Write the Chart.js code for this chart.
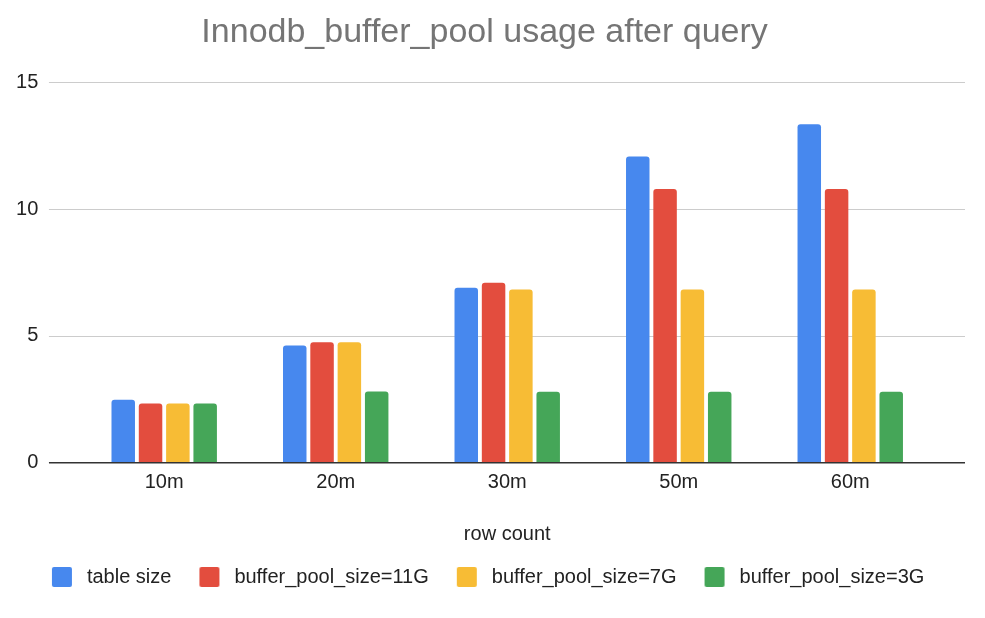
<!DOCTYPE html>
<html>
<head>
<meta charset="utf-8">
<script src="https://cdn.jsdelivr.net/npm/chart.js@4"></script>
<style>
  html, body { margin: 0; padding: 0; background: #ffffff; }
  #wrap { width: 985px; height: 618px; position: relative; }
</style>
</head>
<body>
<div id="wrap"><canvas id="c" width="985" height="618"></canvas></div>
<script>
const categories = ['10m', '20m', '30m', '50m', '60m'];
const seriesNames = ['table size', 'buffer_pool_size=11G', 'buffer_pool_size=7G', 'buffer_pool_size=3G'];
const tableSize = [2.49, 4.62, 6.90, 12.07, 13.35];
const bufferPool11G = [2.34, 4.75, 7.10, 10.79, 10.79];
const bufferPool7G = [2.34, 4.75, 6.83, 6.83, 6.83];
const bufferPool3G = [2.34, 2.81, 2.80, 2.80, 2.80];
const yTicks = [0, 5, 10, 15];

const colors = ['#4788ee', '#e34d3e', '#f7bc35', '#45a658'];
const FONT = '"Liberation Sans", Arial, sans-serif';

function legendSwatch(color) {
  const cv = document.createElement('canvas');
  cv.width = 32; cv.height = 20;
  const g = cv.getContext('2d');
  g.fillStyle = color;
  g.beginPath();
  if (g.roundRect) g.roundRect(7, 0, 20, 20, 2); else g.rect(7, 0, 20, 20);
  g.fill();
  return cv;
}
const swatches = colors.map(legendSwatch);

const gridPlugin = {
  id: 'gridExt',
  beforeDatasetsDraw(chart) {
    const {ctx, chartArea, scales} = chart;
    const x0 = chartArea.left - 29.5, x1 = chartArea.right + 29;
    ctx.save();
    ctx.strokeStyle = '#cccccc';
    ctx.lineWidth = 1;
    yTicks.forEach(v => {
      if (v === 0) return;
      const y = Math.round(scales.y.getPixelForValue(v)) + 0.5;
      ctx.beginPath(); ctx.moveTo(x0, y); ctx.lineTo(x1, y); ctx.stroke();
    });
    ctx.restore();
  },
  afterDatasetsDraw(chart) {
    const {ctx, chartArea, scales} = chart;
    const x0 = chartArea.left - 29.5, x1 = chartArea.right + 29;
    const y = scales.y.getPixelForValue(0);
    ctx.save();
    ctx.strokeStyle = '#333333';
    ctx.lineWidth = 1.5;
    ctx.beginPath(); ctx.moveTo(x0, y); ctx.lineTo(x1, y); ctx.stroke();
    ctx.restore();
  }
};

const values = [tableSize, bufferPool11G, bufferPool7G, bufferPool3G];

new Chart(document.getElementById('c'), {
  type: 'bar',
  data: {
    labels: categories,
    datasets: values.map((d, i) => ({
      label: seriesNames[i],
      data: d,
      backgroundColor: colors[i],
      borderWidth: 0,
      borderRadius: 3,
      categoryPercentage: 0.637,
      barPercentage: 0.86
    }))
  },
  options: {
    responsive: false,
    animation: false,
    events: [],
    layout: { padding: { left: 0, right: 15.8, top: 0, bottom: 21 } },
    plugins: {
      title: {
        display: true,
        text: 'Innodb_buffer_pool usage after query',
        color: '#757575',
        font: { family: FONT, size: 34, weight: 'normal', lineHeight: 1.2 },
        padding: { top: 12.1, bottom: 29.4 }
      },
      legend: {
        position: 'bottom',
        labels: {
          usePointStyle: true,
          pointStyleWidth: 32,
          boxHeight: 20,
          padding: 21,
          color: '#222222',
          font: { family: FONT, size: 20 },
          generateLabels(chart) {
            const items = Chart.defaults.plugins.legend.labels.generateLabels(chart);
            items.forEach((it, i) => { it.pointStyle = swatches[i]; });
            return items;
          }
        }
      },
      tooltip: { enabled: false }
    },
    scales: {
      x: {
        grid: { display: false, drawTicks: false },
        border: { display: false },
        ticks: { color: '#222222', padding: 7.5, font: { family: FONT, size: 20 } },
        title: {
          display: true,
          text: 'row count',
          color: '#222222',
          font: { family: FONT, size: 20 },
          padding: { top: 20.2, bottom: 0 }
        }
      },
      y: {
        min: 0,
        max: 15,
        grid: { display: false, drawTicks: false },
        border: { display: false },
        afterBuildTicks(scale) { scale.ticks = yTicks.map(v => ({ value: v })); },
        ticks: { color: '#222222', padding: 40.15, font: { family: FONT, size: 20 } },
        afterFit(scale) { scale.width = 78.45; }
      },
      yR: {
        type: 'linear',
        position: 'right',
        display: true,
        grid: { display: false, drawTicks: false },
        border: { display: false },
        ticks: { display: false },
        afterFit(scale) { scale.width = 33.2; }
      }
    }
  },
  plugins: [gridPlugin]
});
</script>
</body>
</html>
